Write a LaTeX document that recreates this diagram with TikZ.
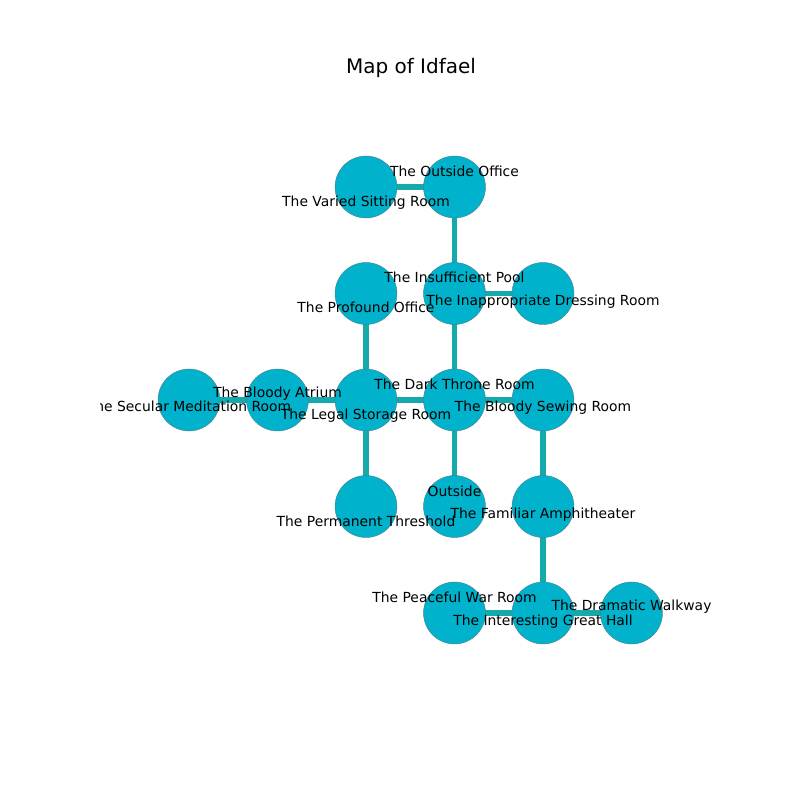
\documentclass[tikz,border=0pt]{standalone}
\usepackage{fontspec}
\setmainfont{DejaVu Sans}
\usetikzlibrary{backgrounds}
\definecolor{nodefill}{HTML}{00B2CB}
\definecolor{edgecol}{HTML}{14AAAC}
\definecolor{rimcol}{HTML}{4F7F8A}
\begin{document}
\begin{tikzpicture}[x=0.72pt,y=-0.72pt,
  room/.style={circle,fill=nodefill,draw=rimcol,line width=0.3pt,minimum size=44.6pt,inner sep=0pt},
  link/.style={draw=edgecol,line width=4.3pt},
  lbl/.style={font=\fontsize{10}{12}\selectfont,text=black,inner sep=0pt,anchor=base}]
\useasboundingbox (0,0) rectangle (800,800);
\node[font=\fontsize{14.4}{17}\selectfont,inner sep=0pt,anchor=base] (title) at (411,73) {Map of Idfael};
% nodes
\node[room] (vs) at (366,187) {};
\node[room] (oo) at (454.5,187) {};
\node[room] (ip) at (454.5,293.5) {};
\node[room] (po) at (366,293.5) {};
\node[room] (id) at (543,293.5) {};
\node[room] (sm) at (189,400) {};
\node[room] (ba) at (277.5,400) {};
\node[room] (ls) at (366,400) {};
\node[room] (dt) at (454.5,400) {};
\node[room] (bs) at (543,400) {};
\node[room] (pt) at (366,506.5) {};
\node[room] (ou) at (454.5,506.5) {};
\node[room] (fa) at (543,506.5) {};
\node[room] (pw) at (454.5,613) {};
\node[room] (ig) at (543,613) {};
\node[room] (dw) at (631.5,613) {};
% edges (behind)
\begin{scope}[on background layer]
\path[link] (vs.center) -- (oo.center);
\path[link] (oo.center) -- (ip.center);
\path[link] (ip.center) -- (id.center);
\path[link] (ip.center) -- (dt.center);
\path[link] (po.center) -- (ls.center);
\path[link] (sm.center) -- (ba.center);
\path[link] (ba.center) -- (ls.center);
\path[link] (ls.center) -- (dt.center);
\path[link] (dt.center) -- (bs.center);
\path[link] (dt.center) -- (ou.center);
\path[link] (ls.center) -- (pt.center);
\path[link] (bs.center) -- (fa.center);
\path[link] (fa.center) -- (ig.center);
\path[link] (pw.center) -- (ig.center);
\path[link] (ig.center) -- (dw.center);
\end{scope}
% labels clipped to axes
\begin{scope}
\clip (100,96) rectangle (720,712);
\node[lbl] (Lvs) at (366,206) {The Varied Sitting Room};
\node[lbl] (Loo) at (454.5,176) {The Outside Office};
\node[lbl] (Lip) at (454.5,282) {The Insufficient Pool};
\node[lbl] (Lpo) at (366,312) {The Profound Office};
\node[lbl] (Lid) at (543,305) {The Inappropriate Dressing Room};
\node[lbl] (Lsm) at (189,411) {The Secular Meditation Room};
\node[lbl] (Lba) at (277.5,397) {The Bloody Atrium};
\node[lbl] (Lls) at (366,419) {The Legal Storage Room};
\node[lbl] (Ldt) at (454.5,389) {The Dark Throne Room};
\node[lbl] (Lbs) at (543,411) {The Bloody Sewing Room};
\node[lbl] (Lpt) at (366,526) {The Permanent Threshold};
\node[lbl] (Lou) at (454.5,496) {Outside};
\node[lbl] (Lfa) at (543,518) {The Familiar Amphitheater};
\node[lbl] (Lpw) at (454.5,602) {The Peaceful War Room};
\node[lbl] (Lig) at (543,625) {The Interesting Great Hall};
\node[lbl] (Ldw) at (631.5,610) {The Dramatic Walkway};
\end{scope}
\end{tikzpicture}
\end{document}
